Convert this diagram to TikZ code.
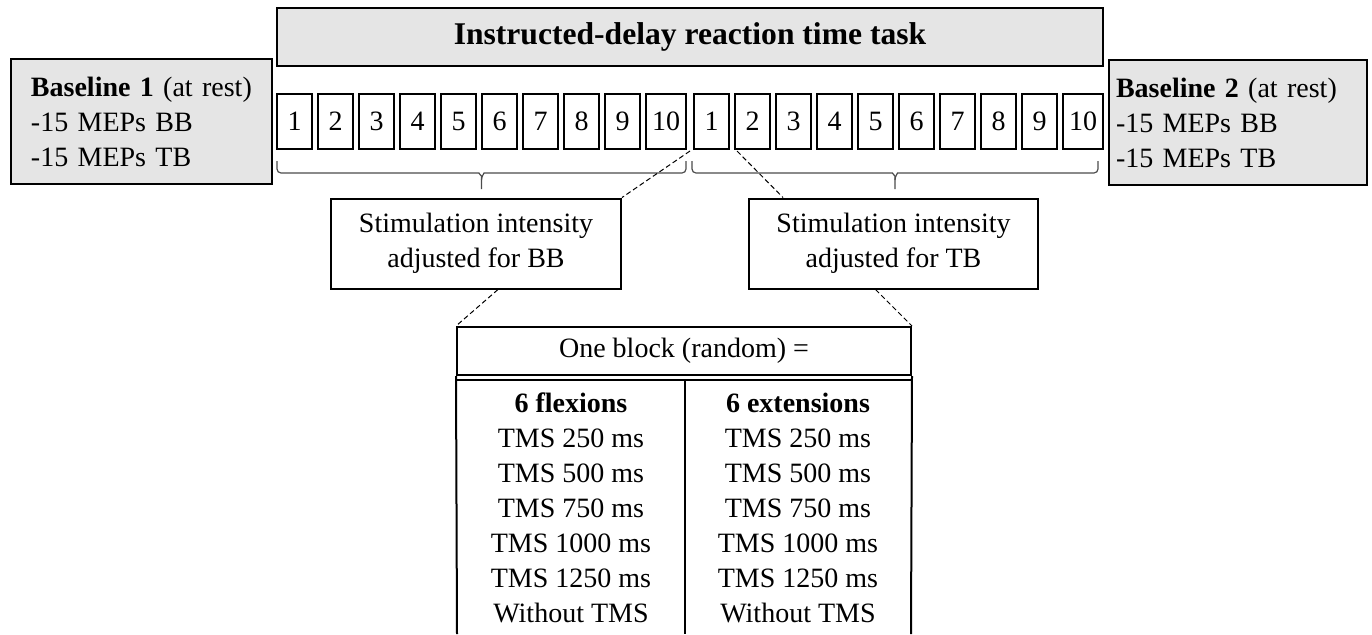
\documentclass[tikz,border=0pt]{standalone}
\usepackage{fontspec}
\setmainfont{Liberation Serif}

\begin{document}
\begin{tikzpicture}[x=0.5pt,y=-0.5pt,font=\fontsize{14}{17.5}\selectfont,
  greybox/.style={draw,line width=1pt,fill=gray!20},
  trial/.style={draw,line width=0.8pt,minimum width=17.5pt,minimum height=27.5pt,inner sep=0pt},
  stimbox/.style={draw,line width=1pt,align=center,minimum height=45pt},
  zoomline/.style={dashed,dash pattern=on 2.5pt off 1.5pt,line width=0.5pt},
  bracket/.style={line width=0.6pt,draw=black!70,rounded corners=2pt}]
\useasboundingbox (0,0) rectangle (1372,634);
\node[greybox,minimum width=413pt,minimum height=29pt,font=\fontsize{15.8}{19}\selectfont\bfseries] (title) at (690,37) {Instructed-delay reaction time task};
\node[greybox,align=left,text width=110.5pt,inner xsep=10pt,minimum height=62.5pt] (base1) at (141.5,121.5) {\textbf{Baseline 1} (at rest)\\-15 MEPs BB\\-15 MEPs TB};
\node[greybox,align=left,text width=122pt,inner xsep=3.5pt,minimum height=62.5pt] (base2) at (1238,122.5) {\textbf{Baseline 2} (at rest)\\-15 MEPs BB\\-15 MEPs TB};
\foreach \g/\xa in {a/277,b/694} {
  \foreach \k in {1,...,9}
    \node[trial] (\g\k) at ({\xa+41*\k-23.5},121.5) {\k};
  \node[trial,minimum width=20pt] (\g10) at ({\xa+389},121.5) {10};
}
\draw[bracket] (277,161) |- (475,173) to[out=0,in=90] (481.5,180) -- (481.5,189);
\draw[bracket] (481.5,180) to[out=90,in=180] (488,173) -| (686,161);
\draw[bracket] (692,161) |- (888.5,173) to[out=0,in=90] (895,180) -- (895,189);
\draw[bracket] (895,180) to[out=90,in=180] (901.5,173) -| (1098,161);
\node[stimbox,minimum width=145pt] (stimBB) at (476,243.5) {Stimulation intensity\\adjusted for BB};
\node[stimbox,minimum width=144.5pt] (stimTB) at (893.5,243.5) {Stimulation intensity\\adjusted for TB};
\node[draw,line width=1pt,minimum width=227pt,minimum height=24pt] (block) at (684,351) {One block (random) =};
\draw[line width=1pt] ([yshift=-2pt]block.south west) -- ([yshift=-2pt]block.south east);
\draw[line width=1pt] (block.south west) -- (457,634);
\draw[line width=1pt] (block.south east) -- (911,634);
\draw[line width=1pt] (685,379) -- (685,634);
\node[align=center] (flex) at (571,507.5) {\textbf{6 flexions}\\TMS 250 ms\\TMS 500 ms\\TMS 750 ms\\TMS 1000 ms\\TMS 1250 ms\\Without TMS};
\node[align=center] (ext) at (798,507.5) {\textbf{6 extensions}\\TMS 250 ms\\TMS 500 ms\\TMS 750 ms\\TMS 1000 ms\\TMS 1250 ms\\Without TMS};
\coordinate (gap1) at (690,151);
\coordinate (gap2) at (737,151);
\draw[zoomline] (gap1) -- (stimBB.north east);
\draw[zoomline] (gap2) -- ([xshift=17.5pt]stimTB.north west);
\draw[zoomline] ([xshift=11pt]stimBB.south) -- (block.north west);
\draw[zoomline] ([xshift=-9pt]stimTB.south) -- (block.north east);
\end{tikzpicture}
\end{document}
